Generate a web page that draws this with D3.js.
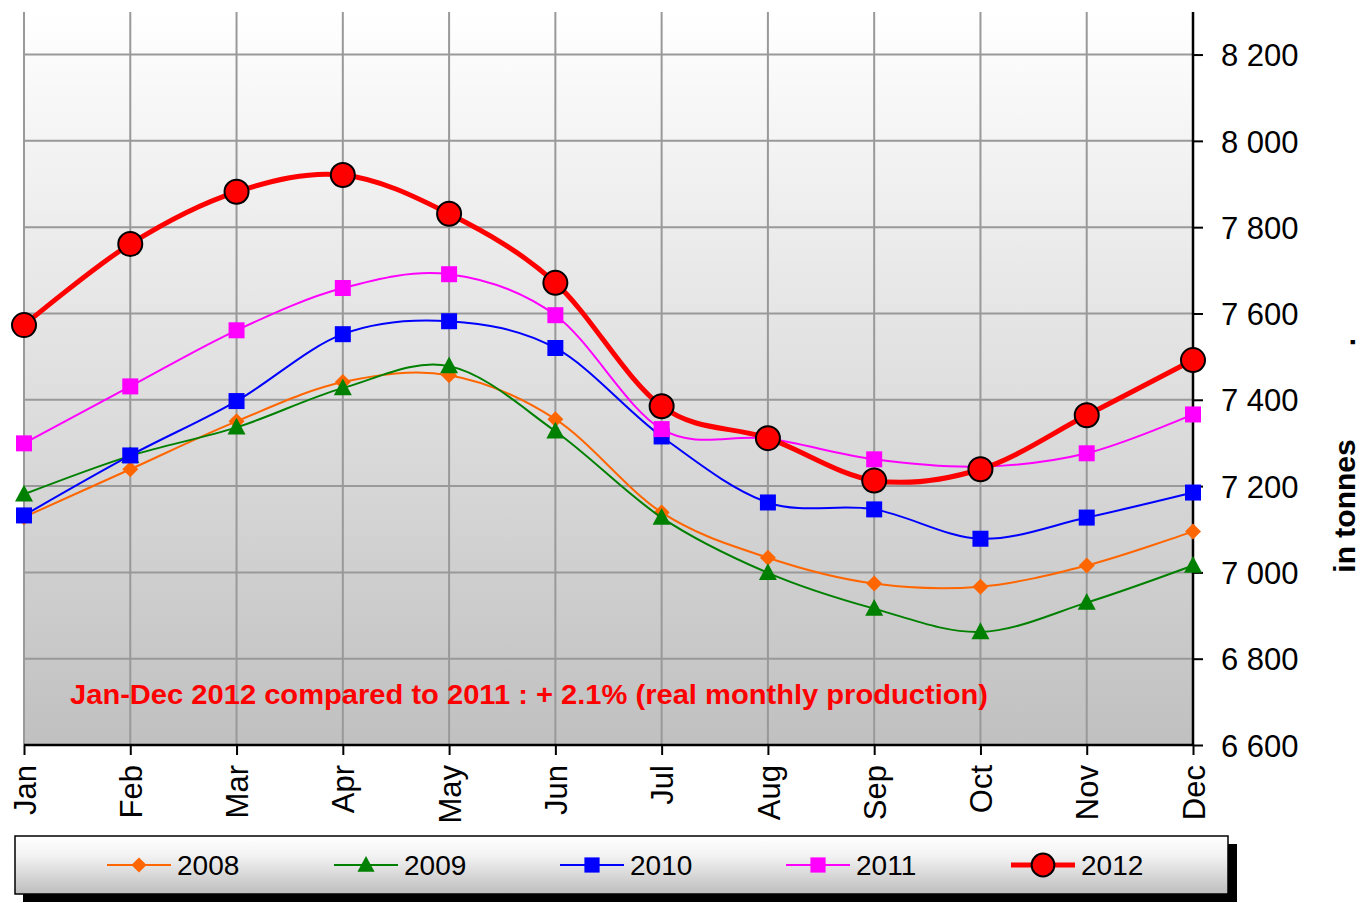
<!DOCTYPE html>
<html>
<head>
<meta charset="utf-8">
<script src="https://cdn.jsdelivr.net/npm/d3@7/dist/d3.min.js"></script>
<style>
  html, body { margin: 0; padding: 0; background: #fff; }
  svg { display: block; font-family: Arial, "Liberation Sans", sans-serif; }
</style>
</head>
<body>
<svg id="chart" width="1363" height="903"></svg>
<script>
// Monthly production, in tonnes
const months = ["Jan", "Feb", "Mar", "Apr", "May", "Jun", "Jul", "Aug", "Sep", "Oct", "Nov", "Dec"];
const values2008 = [7128, 7239, 7350, 7441, 7457, 7355, 7139, 7034, 6974, 6967, 7016, 7095];
const values2009 = [7181, 7270, 7336, 7427, 7478, 7327, 7127, 6999, 6916, 6862, 6930, 7016];
const values2010 = [7132, 7271, 7397, 7552, 7582, 7520, 7315, 7162, 7146, 7078, 7127, 7185];
const values2011 = [7299, 7431, 7561, 7659, 7691, 7596, 7332, 7310, 7262, 7245, 7276, 7366];
const values2012 = [7573, 7761, 7882, 7921, 7831, 7671, 7385, 7311, 7213, 7239, 7364, 7492];
const yTicks = [6600, 6800, 7000, 7200, 7400, 7600, 7800, 8000, 8200];
const note = "Jan-Dec 2012 compared to 2011 : + 2.1%  (real monthly production)";

const series = [
  { name: "2008", values: values2008, color: "#FF6600", width: 2, marker: "diamond" },
  { name: "2009", values: values2009, color: "#008000", width: 2, marker: "triangle" },
  { name: "2010", values: values2010, color: "#0000FF", width: 2, marker: "square" },
  { name: "2011", values: values2011, color: "#FF00FF", width: 2, marker: "square" },
  { name: "2012", values: values2012, color: "#FF0000", width: 5, marker: "circle" }
];

const svg = d3.select("#chart");
const plot = { left: 24, right: 1193, top: 12, bottom: 745 };

const x = d3.scalePoint().domain(months).range([plot.left, plot.right]);
const y = d3.scaleLinear().domain([6600, 8300]).range([plot.bottom, plot.top - 0.6]);

const defs = svg.append("defs");
const bg = defs.append("linearGradient").attr("id", "plotBg").attr("x1", 0).attr("y1", 0).attr("x2", 0).attr("y2", 1);
bg.append("stop").attr("offset", "0%").attr("stop-color", "#ffffff");
bg.append("stop").attr("offset", "100%").attr("stop-color", "#c0c0c0");

const lg = defs.append("linearGradient").attr("id", "legendBg").attr("x1", 0).attr("y1", 0).attr("x2", 0).attr("y2", 1);
lg.append("stop").attr("offset", "0%").attr("stop-color", "#ffffff");
lg.append("stop").attr("offset", "35%").attr("stop-color", "#f2f2f2");
lg.append("stop").attr("offset", "100%").attr("stop-color", "#bdbdbd");

// Plot area background
svg.append("rect")
  .attr("x", plot.left).attr("y", plot.top)
  .attr("width", plot.right - plot.left).attr("height", plot.bottom - plot.top)
  .attr("fill", "url(#plotBg)");

// Grid lines
const grid = svg.append("g").attr("stroke", "#999999").attr("stroke-width", 2);
grid.selectAll("line.h").data(yTicks.filter(d => d > 6600)).join("line")
  .attr("x1", plot.left).attr("x2", plot.right)
  .attr("y1", d => y(d)).attr("y2", d => y(d));
grid.selectAll("line.v").data(months).join("line")
  .attr("x1", d => x(d)).attr("x2", d => x(d))
  .attr("y1", plot.top).attr("y2", plot.bottom);

// Annotation inside the plot
svg.append("text")
  .attr("x", 70).attr("y", 704)
  .attr("fill", "#FF0000")
  .attr("font-weight", "bold")
  .attr("font-size", 27)
  .attr("textLength", 918)
  .attr("lengthAdjust", "spacingAndGlyphs")
  .text(note);

// Axes
const xAxis = d3.axisBottom(x).tickSize(10).tickPadding(10);
const gx = svg.append("g").attr("transform", `translate(0,${plot.bottom})`).call(xAxis);
gx.select(".domain").attr("stroke", "#000").attr("stroke-width", 2.5).attr("d", `M${plot.left},0H${plot.right}`);
gx.selectAll(".tick line").attr("stroke", "#000").attr("stroke-width", 2);
gx.selectAll(".tick text")
  .attr("font-size", 31)
  .attr("fill", "#000")
  .attr("font-family", "Arial, 'Liberation Sans', sans-serif")
  .attr("text-anchor", "end")
  .attr("transform", "rotate(-90)")
  .attr("x", -20).attr("y", 0).attr("dy", "0.36em");

const yAxis = d3.axisRight(y).tickValues(yTicks).tickSize(10).tickPadding(18)
  .tickFormat(d => d3.format(",")(d).replace(",", " "));
const gy = svg.append("g").attr("transform", `translate(${plot.right},0)`).call(yAxis);
gy.select(".domain").attr("stroke", "#000").attr("stroke-width", 2.5).attr("d", `M0,${plot.top}V${plot.bottom}`);
gy.selectAll(".tick line").attr("stroke", "#000").attr("stroke-width", 2);
gy.selectAll(".tick text")
  .attr("font-size", 31)
  .attr("fill", "#000")
  .attr("font-family", "Arial, 'Liberation Sans', sans-serif")
  .attr("dy", "0.36em");

// Axis title
svg.append("text")
  .attr("transform", "translate(1355,506) rotate(-90)")
  .attr("text-anchor", "middle")
  .attr("font-weight", "bold")
  .attr("font-size", 30)
  .text("in tonnes");
svg.append("text")
  .attr("transform", "translate(1355,342) rotate(-90)")
  .attr("text-anchor", "middle")
  .attr("font-weight", "bold")
  .attr("font-size", 30)
  .text(".");

// Marker drawing helper
function drawMarker(g, type, cx, cy, color, scale = 1) {
  if (type === "circle") {
    g.append("circle").attr("cx", cx).attr("cy", cy).attr("r", 12 * scale)
      .attr("fill", color).attr("stroke", "#000").attr("stroke-width", 2);
  } else if (type === "square") {
    const s = 16 * scale;
    g.append("rect").attr("x", cx - s / 2).attr("y", cy - s / 2).attr("width", s).attr("height", s)
      .attr("fill", color);
  } else if (type === "triangle") {
    const h = 16 * scale, w = 18 * scale;
    g.append("path")
      .attr("d", `M${cx},${cy - h * 0.6}L${cx + w / 2},${cy + h * 0.45}L${cx - w / 2},${cy + h * 0.45}Z`)
      .attr("fill", color);
  } else if (type === "diamond") {
    const r = 8 * scale;
    g.append("path")
      .attr("d", `M${cx},${cy - r}L${cx + r},${cy}L${cx},${cy + r}L${cx - r},${cy}Z`)
      .attr("fill", color);
  }
}

// Series lines and markers
const line = d3.line()
  .x((d, i) => x(months[i]))
  .y(d => y(d))
  .curve(d3.curveCardinal.tension(0));

series.forEach(s => {
  const g = svg.append("g");
  g.append("path")
    .attr("d", line(s.values))
    .attr("fill", "none")
    .attr("stroke", s.color)
    .attr("stroke-width", s.width)
    .attr("stroke-linejoin", "round");
  s.values.forEach((v, i) => drawMarker(g, s.marker, x(months[i]), y(v), s.color));
});

// Legend
const legend = svg.append("g");
legend.append("rect").attr("x", 23).attr("y", 844).attr("width", 1214).attr("height", 58).attr("fill", "#000");
legend.append("rect").attr("x", 15).attr("y", 836).attr("width", 1213).attr("height", 58)
  .attr("fill", "url(#legendBg)").attr("stroke", "#000").attr("stroke-width", 1.5);

const legendX = [107, 334, 560, 786, 1011];
series.forEach((s, i) => {
  const lx = legendX[i];
  const ly = 865;
  const g = legend.append("g");
  g.append("line").attr("x1", lx).attr("x2", lx + 64).attr("y1", ly).attr("y2", ly)
    .attr("stroke", s.color).attr("stroke-width", s.width);
  drawMarker(g, s.marker, lx + 32, ly, s.color, 0.95);
  g.append("text").attr("x", lx + 70).attr("y", ly).attr("dy", "0.36em")
    .attr("font-size", 28).attr("fill", "#000").text(s.name);
});
</script>
</body>
</html>
